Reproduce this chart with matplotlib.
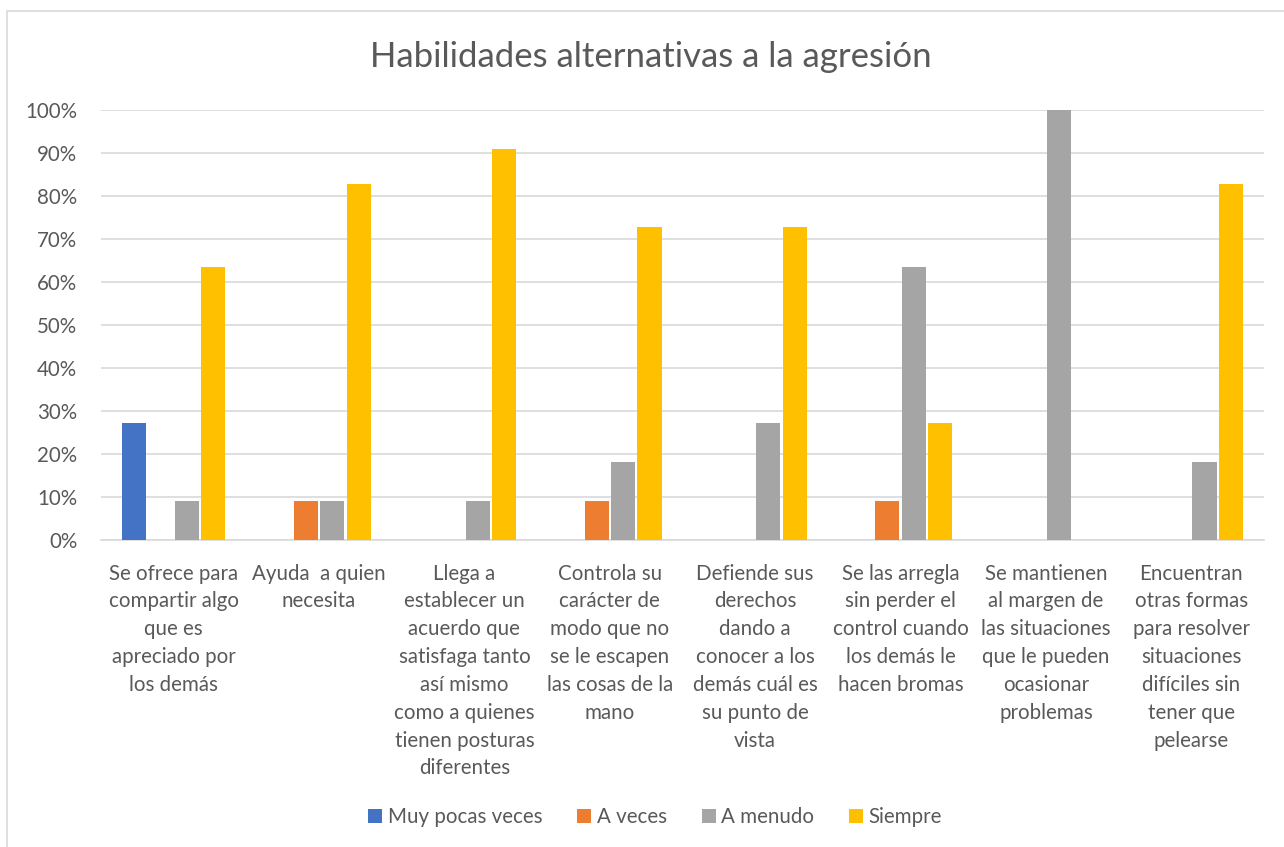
import matplotlib
matplotlib.use("Agg")
import matplotlib.pyplot as plt
from matplotlib.patches import Rectangle
import numpy as np

categories = [
    "Se ofrece para\ncompartir algo\nque es\napreciado por\nlos demás",
    "Ayuda  a quien\nnecesita",
    "Llega a\nestablecer un\nacuerdo que\nsatisfaga tanto\nasí mismo\ncomo a quienes\ntienen posturas\ndiferentes",
    "Controla su\ncarácter de\nmodo que no\nse le escapen\nlas cosas de la\nmano",
    "Defiende sus\nderechos\ndando a\nconocer a los\ndemás cuál es\nsu punto de\nvista",
    "Se las arregla\nsin perder el\ncontrol cuando\nlos demás le\nhacen bromas",
    "Se mantienen\nal margen de\nlas situaciones\nque le pueden\nocasionar\nproblemas",
    "Encuentran\notras formas\npara resolver\nsituaciones\ndifíciles sin\ntener que\npelearse",
]
series_names = ["Muy pocas veces", "A veces", "A menudo", "Siempre"]
muy_pocas = [27.3, 0, 0, 0, 0, 0, 0, 0]
a_veces = [0, 9.1, 0, 9.1, 0, 9.1, 0, 0]
a_menudo = [9.1, 9.1, 9.1, 18.2, 27.3, 63.6, 100, 18.2]
siempre = [63.6, 82.8, 90.9, 72.7, 72.7, 27.3, 0, 82.8]
colors = ["#4472C4", "#ED7D31", "#A5A5A5", "#FFC000"]
yticks = [0, 10, 20, 30, 40, 50, 60, 70, 80, 90, 100]
title = "Habilidades alternativas a la agresión"

plt.rcParams['font.family'] = ['Lato', 'DejaVu Sans']
txt = "#595959"
fs = 14.8

W, H = 1284, 847
fig = plt.figure(figsize=(W / 100, H / 100), dpi=100)
fig.patches.append(Rectangle((7 / W, -0.1), 1.2, 1 - 11 / H + 0.1, transform=fig.transFigure,
                             fill=False, edgecolor="#d9d9d9", linewidth=1.2))
ax = fig.add_axes([101 / W, 1 - 540 / H, (1264 - 101) / W, (540 - 110) / H])

x = np.arange(len(categories))
step = 0.182
bw = 0.166
for i, (vals, c, name) in enumerate(zip([muy_pocas, a_veces, a_menudo, siempre], colors, series_names)):
    ax.bar(x + (i - 1.5) * step, np.array(vals) / 100, width=bw, color=c, label=name, zorder=3)

ax.set_xlim(-0.5, len(categories) - 0.5)
ax.set_ylim(0, 1)
ax.set_yticks(np.array(yticks) / 100)
ax.set_yticklabels([f"{t}%" for t in yticks])
ax.set_xticks(x)
ax.set_xticklabels(categories, linespacing=1.49)
ax.tick_params(axis='both', length=0, labelsize=fs, colors=txt)
ax.tick_params(axis='y', pad=17)
ax.tick_params(axis='x', pad=17)
ax.grid(axis='y', color="#d9d9d9", linewidth=1.2, zorder=0)
for s in ["top", "right", "left"]:
    ax.spines[s].set_visible(False)
ax.spines["bottom"].set_color("#d9d9d9")
ax.spines["bottom"].set_linewidth(1.2)

fig.text(651 / W, 1 - 57 / H, title, ha='center', va='center', fontsize=25, color=txt)

leg = fig.legend(loc='center', bbox_to_anchor=(655 / W, 1 - 817 / H), ncol=4, frameon=False,
                 fontsize=fs, handlelength=0.7, handleheight=0.7, handletextpad=0.25,
                 columnspacing=1.7, labelcolor=txt)

fig.savefig("out.png", dpi=100)
